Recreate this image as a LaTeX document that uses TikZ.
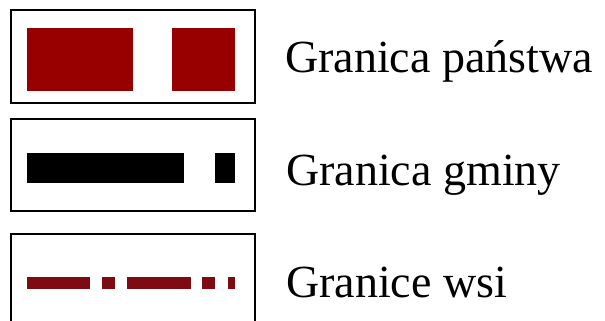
\documentclass[tikz,border=0pt]{standalone}
\usepackage{fontspec}
\setmainfont{Liberation Serif}
\usetikzlibrary{positioning}
\definecolor{stateRed}{HTML}{980000}
\definecolor{villageRed}{HTML}{7E0A12}

\begin{document}
\begin{tikzpicture}[
  x=1pt, y=-1pt,
  legbox/.style={draw, line width=1.5pt, minimum width=244pt, inner sep=0pt},
  legtext/.style={anchor=base west, inner sep=0pt, font=\fontsize{46}{50}\selectfont},
  sample/.style={line cap=butt}
]
\useasboundingbox (0,0) rectangle (605,321);
\clip (0,0) rectangle (605,321);
\fill[white] (0,0) rectangle (605,321);

% frames
\node[legbox, minimum height=93pt] (box1) at (133,56.5) {};
\node[legbox, minimum height=92pt] (box2) at (133,165) {};
\node[legbox, minimum height=96pt] (box3) at (133,282) {};

% line samples
\draw[sample, stateRed, line width=63pt, dash pattern=on 106pt off 39pt on 63pt]
  (27,59.5) -- (235,59.5);
\draw[sample, black, line width=30pt, dash pattern=on 157pt off 31pt on 20pt]
  (27,168) -- (235,168);
\draw[sample, villageRed, line width=12pt,
  dash pattern=on 63pt off 12pt on 13pt off 12pt on 64pt off 11pt on 13pt off 13pt on 7pt]
  (27,283) -- (235,283);

% labels
\node[legtext] (lab1) at (285,73) {Granica państwa};
\node[legtext] (lab2) at (286,185) {Granica gminy};
\node[legtext] (lab3) at (286,297) {Granice wsi};
\end{tikzpicture}
\end{document}
